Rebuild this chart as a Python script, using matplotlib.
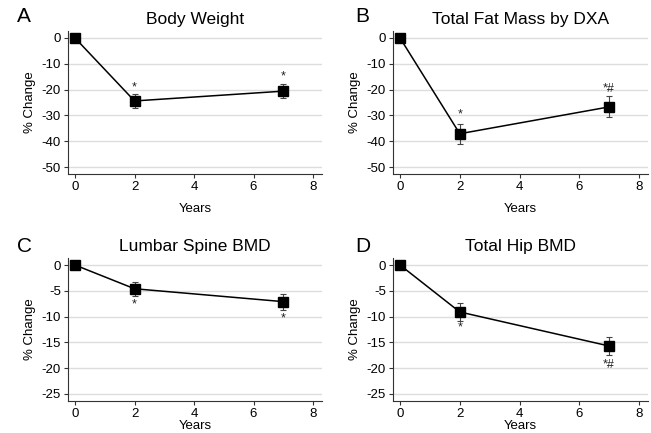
import numpy as np
import matplotlib
matplotlib.use("Agg")
import matplotlib.pyplot as plt

plt.rcParams["font.family"] = ["Liberation Sans", "DejaVu Sans"]
plt.rcParams["axes.unicode_minus"] = False

years = [0, 2, 7]

weight_vals = [0, -24.4, -20.6]
weight_err = [0, 2.7, 2.7]
fat_vals = [0, -37.1, -26.7]
fat_err = [0, 3.9, 4.1]
spine_vals = [0, -4.6, -7.1]
spine_err = [0, 1.4, 1.55]
hip_vals = [0, -9.1, -15.7]
hip_err = [0, 1.75, 1.65]

weight_marks = [(2, -19.2, "*"), (7, -15.0, "*")]
fat_marks = [(2, -29.6, "*"), (7, -19.8, "*#")]
spine_marks = [(2, -7.6, "*"), (7, -10.4, "*")]
hip_marks = [(2, -12.1, "*"), (7, -19.4, "*#")]

panels = [
    ("A", "Body Weight", weight_vals, weight_err, weight_marks, (-52.7, 2.7), np.arange(-50, 1, 10)),
    ("B", "Total Fat Mass by DXA", fat_vals, fat_err, fat_marks, (-52.7, 2.7), np.arange(-50, 1, 10)),
    ("C", "Lumbar Spine BMD", spine_vals, spine_err, spine_marks, (-26.36, 1.36), np.arange(-25, 1, 5)),
    ("D", "Total Hip BMD", hip_vals, hip_err, hip_marks, (-26.36, 1.36), np.arange(-25, 1, 5)),
]

W, H = 651, 433
# axes boxes in pixels: left, right, top, bottom
boxes = [(68, 322, 31, 174), (393, 648, 31, 174),
         (68, 322, 258, 401), (393, 648, 258, 401)]
letter_pos = [(17, 17), (355, 17), (17, 247), (355, 247)]
xlabel_pad = [7, 7, 0, 0]

fig = plt.figure(figsize=(W / 100, H / 100), dpi=100)

for i, (letter, title, vals, err, marks, ylim, yticks) in enumerate(panels):
    l, r, t, b = boxes[i]
    ax = fig.add_axes([l / W, 1 - b / H, (r - l) / W, (b - t) / H])
    ax.errorbar(years, vals, yerr=err, fmt="none", ecolor="#444444",
                elinewidth=0.8, capsize=2, capthick=0.8, zorder=2)
    ax.plot(years, vals, "-", color="black", linewidth=1.1, zorder=3)
    ax.plot(years, vals, "s", color="black", markersize=7.2, zorder=4)
    for x, y, s in marks:
        ax.text(x, y, s, ha="center", va="center", fontsize=9, color="#222222")
    ax.set_xlim(-0.235, 8.3)
    ax.set_ylim(*ylim)
    ax.set_xticks([0, 2, 4, 6, 8])
    ax.set_yticks(yticks)
    ax.yaxis.grid(True, color="#dddddd", linewidth=1)
    ax.set_axisbelow(True)
    for s in ["top", "right"]:
        ax.spines[s].set_visible(False)
    ax.spines["left"].set_color("#333333")
    ax.spines["bottom"].set_color("#333333")
    ax.tick_params(labelsize=9.5, length=3, width=0.8, color="#333333", pad=2)
    ax.set_xlabel("Years", fontsize=9.5, labelpad=xlabel_pad[i])
    ax.set_ylabel("% Change", fontsize=9.5, labelpad=4)
    ax.set_title(title, fontsize=12.5, pad=5)
    fig.text(letter_pos[i][0] / W, 1 - letter_pos[i][1] / H, letter,
             fontsize=15, ha="left", va="center")

fig.savefig("out.png", dpi=100)
